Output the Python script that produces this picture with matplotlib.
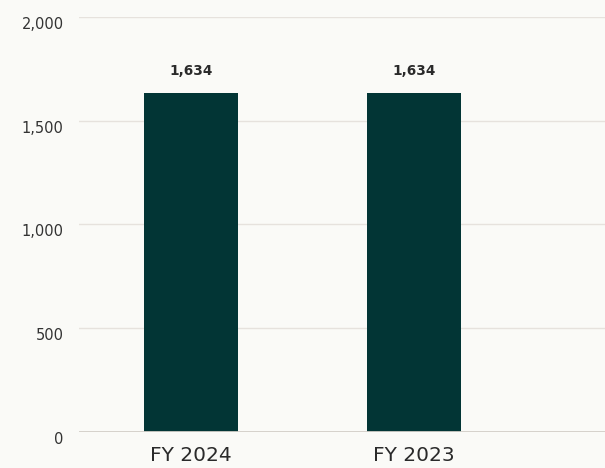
import matplotlib
matplotlib.use("Agg")
import matplotlib.pyplot as plt
import numpy as np

categories = ["FY 2024", "FY 2023"]
values = [1634, 1634]
yticks = [0, 500, 1000, 1500, 2000]

bg = "#fafaf7"
bar_color = "#023535"

plt.rcParams['font.family'] = ['DejaVu Sans']

fig = plt.figure(figsize=(6.05, 4.68), dpi=100, facecolor=bg)
ax = fig.add_axes([0.1306, 0.0769, 0.8694, 0.8868], facecolor=bg)

x = np.arange(len(categories))
ax.bar(x, values, width=0.42, color=bar_color, zorder=3)

for xi, v in zip(x, values):
    ax.annotate(f"{v:,}", (xi, v), xytext=(0, 11), textcoords="offset points",
                ha="center", va="bottom", fontsize=9.8, fontweight="bold",
                color="#2a2a2a")

ax.set_ylim(0, 2000)
ax.set_xlim(-0.502, 1.857)
ax.set_yticks(yticks)
# labels hang just under their gridlines
ax.set_yticklabels([f"{t:,}" for t in yticks], fontsize=10.5, color="#333333",
                   va="top")
ax.set_xticks(x)
ax.set_xticklabels(categories, fontsize=14.5, color="#2a2a2a")

ax.grid(axis="y", color="#e6e2dd", linewidth=1, zorder=0)
ax.axhline(0, color="#d3cfc9", linewidth=1.3, zorder=4)
for s in ax.spines.values():
    s.set_visible(False)
ax.tick_params(axis="y", length=0, pad=11)
ax.tick_params(axis="x", length=0, pad=10)

fig.savefig("out.png", dpi=100, facecolor=bg)
